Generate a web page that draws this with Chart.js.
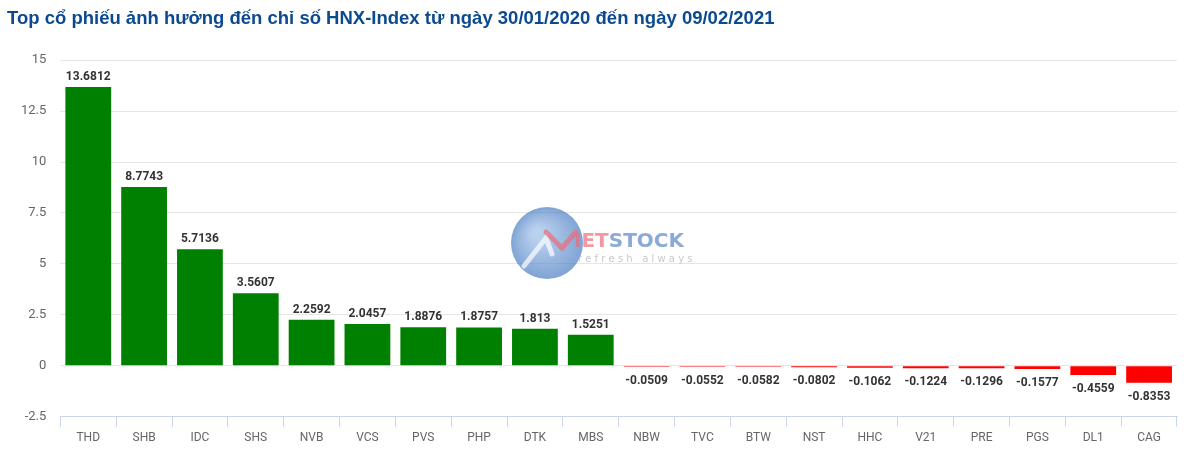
<!DOCTYPE html>
<html>
<head>
<meta charset="utf-8">
<script src="https://cdn.jsdelivr.net/npm/chart.js@4.4.0/dist/chart.umd.min.js"></script>
<style>
html,body{margin:0;padding:0;background:#fff;}
#wrap{width:1200px;height:457px;position:relative;}
</style>
</head>
<body>
<div id="wrap"><canvas id="c" width="1200" height="457"></canvas></div>
<script>
const TITLE = "Top cổ phiếu ảnh hưởng đến chỉ số HNX-Index từ ngày 30/01/2020 đến ngày 09/02/2021";
const categories = ["THD","SHB","IDC","SHS","NVB","VCS","PVS","PHP","DTK","MBS","NBW","TVC","BTW","NST","HHC","V21","PRE","PGS","DL1","CAG"];
const values = [13.6812,8.7743,5.7136,3.5607,2.2592,2.0457,1.8876,1.8757,1.813,1.5251,-0.0509,-0.0552,-0.0582,-0.0802,-0.1062,-0.1224,-0.1296,-0.1577,-0.4559,-0.8353];
const yTicks = [-2.5,0,2.5,5,7.5,10,12.5,15];

const watermark = {
  id:'watermark',
  beforeDatasetsDraw(chart){
    const ctx = chart.ctx;
    ctx.save();
    ctx.globalAlpha = 0.7;
    const cx = 547, cy = 243, r = 36;
    const g = ctx.createRadialGradient(cx-10,cy-10,5,cx,cy,r);
    g.addColorStop(0,'#9cbde6');
    g.addColorStop(1,'#4a7cc2');
    ctx.fillStyle = g;
    ctx.beginPath(); ctx.arc(cx,cy,r,0,Math.PI*2); ctx.fill();
    ctx.strokeStyle='#ffffff'; ctx.lineWidth=5; ctx.lineCap='round';
    ctx.beginPath(); ctx.moveTo(524,266); ctx.lineTo(546,238); ctx.lineTo(552,254); ctx.stroke();
    ctx.strokeStyle='#f06b78'; ctx.lineWidth=5;
    ctx.beginPath(); ctx.moveTo(546,232); ctx.lineTo(562,248); ctx.lineTo(576,232); ctx.stroke();
    ctx.font = 'bold 20px "DejaVu Sans", sans-serif';
    ctx.textBaseline='middle';
    ctx.fillStyle='#f06b78';
    ctx.fillText('IET',574,242);
    const w = ctx.measureText('IET').width;
    ctx.fillStyle='#5a86c6';
    ctx.fillText('STOCK',574+w,242);
    ctx.font = '10px "DejaVu Sans", sans-serif';
    ctx.fillStyle='#b0b0b0';
    ctx.fillText('r e f r e s h   a l w a y s',578,259);
    ctx.restore();
  }
};

const valueLabels = {
  id:'valueLabels',
  afterDatasetsDraw(chart){
    const ctx = chart.ctx;
    const meta = chart.getDatasetMeta(0);
    ctx.save();
    ctx.font = 'bold 12px Roboto, sans-serif';
    ctx.fillStyle = '#333333';
    ctx.textAlign = 'center';
    ctx.textBaseline = 'middle';
    meta.data.forEach((bar,i)=>{
      const v = values[i];
      const y = v >= 0 ? bar.y - 10 : bar.y + 14;
      ctx.fillText(String(v), bar.x, y);
    });
    ctx.restore();
  }
};

new Chart(document.getElementById('c'), {
  type:'bar',
  data:{
    labels:categories,
    datasets:[{
      data:values,
      backgroundColor: values.map(v=>v>=0?'#008000':'#ff0000'),
      borderWidth:0,
      categoryPercentage:1,
      barPercentage:0.82
    }]
  },
  options:{
    responsive:false,
    animation:false,
    devicePixelRatio:1,
    layout:{padding:{left:7,right:23,top:8,bottom:8}},
    plugins:{
      legend:{display:false},
      tooltip:{enabled:false},
      title:{
        display:true,
        text:TITLE,
        align:'start',
        color:'#0b4a91',
        font:{family:'"Liberation Sans", Arial, sans-serif',size:18.5,weight:'bold'},
        padding:{top:0,bottom:30}
      }
    },
    scales:{
      x:{
        offset:true,
        grid:{offset:true,drawOnChartArea:false,drawTicks:true,tickLength:10,color:'#ccd6eb'},
        border:{display:true,color:'#ccd6eb'},
        ticks:{color:'#666666',font:{family:'Roboto, sans-serif',size:12},padding:4,maxRotation:0}
      },
      y:{
        min:-2.5,max:15,
        afterBuildTicks(axis){ axis.ticks = yTicks.map(v=>({value:v})); },
        grid:{color:(c)=>c.tick && c.tick.value===-2.5?'rgba(0,0,0,0)':'#e6e6e6',drawTicks:false},
        border:{display:false},
        ticks:{color:'#666666',font:{family:'Roboto, sans-serif',size:13},padding:14,
          callback:(v)=>String(v)}
      }
    }
  },
  plugins:[watermark,valueLabels]
});
</script>
</body>
</html>
